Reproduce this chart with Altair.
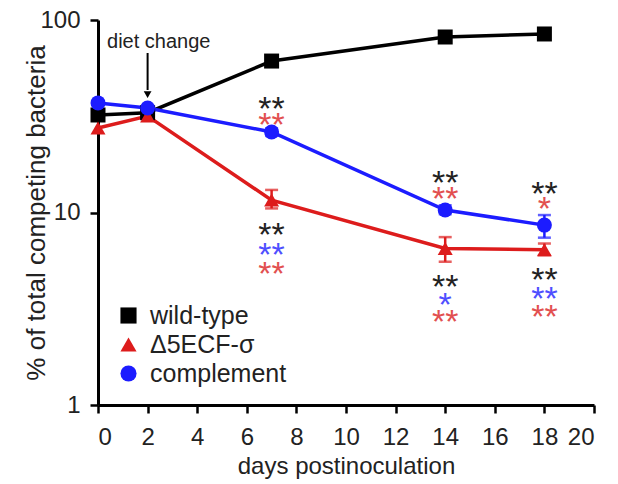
import altair as alt
import pandas as pd

FONT = "Liberation Sans"

series_names = ["wild-type", "Δ5ECF-σ", "complement"]
series_colors = ["#000000", "#dd1c1c", "#1c1cff"]
series_shapes = ["square", "triangle-up", "circle"]

days = [0, 2, 7, 14, 18]
wild_type = [32.1, 33.0, 61.2, 81.6, 84.6]
mutant = [27.5, 31.7, 11.6, 6.5, 6.4]
complement = [37.1, 34.9, 26.2, 10.3, 8.6]

# error bars (series, day, low, high)
err_series = ["Δ5ECF-σ", "Δ5ECF-σ", "Δ5ECF-σ", "complement", "complement", "complement"]
err_day = [7, 14, 18, 7, 14, 18]
err_lo = [10.5, 5.55, 6.0, 25.0, 9.8, 7.4]
err_hi = [13.1, 7.45, 6.9, 27.4, 10.9, 9.7]

# significance asterisks (day, y-value, text, comparison group)
ast_day = [7, 7, 7, 7, 7, 14, 14, 14, 14, 14, 18, 18, 18, 18, 18]
ast_val = [37.5, 31.0, 8.30, 6.54, 5.21, 15.5, 12.8, 4.46, 3.60, 2.94, 13.6, 11.3, 4.85, 3.86, 3.12]
ast_txt = ["**", "**", "**", "**", "**", "**", "**", "**", "*", "**", "**", "*", "**", "**", "**"]
ast_grp = ["k", "r", "k", "b", "r",
           "k", "r", "k", "b", "r",
           "k", "r", "k", "b", "r"]
ast_group_names = ["k", "r", "b"]
ast_group_colors = ["#222222", "#e25050", "#4f4fff"]

# "diet change" annotation
note_text = ["diet change"]
note_day = [2.45]
note_val = [76.9]
arrow_day = [2]
arrow_top = [67.4]
arrow_bottom = [43.3]
arrow_head = [41.0]

rows = []
for name, vals in zip(series_names, [wild_type, mutant, complement]):
    for d, v in zip(days, vals):
        rows.append({"series": name, "day": d, "value": v})
df = pd.DataFrame(rows)
err_df = pd.DataFrame({"series": err_series, "day": err_day, "lo": err_lo, "hi": err_hi})
ast_df = pd.DataFrame({"day": ast_day, "value": ast_val, "txt": ast_txt, "grp": ast_grp})
note_df = pd.DataFrame({"day": note_day, "value": note_val, "txt": note_text})
arrow_df = pd.DataFrame({"day": arrow_day, "top": arrow_top, "bottom": arrow_bottom, "head": arrow_head})

xscale = alt.Scale(domain=[0, 20], nice=False)
yscale = alt.Scale(type="log", domain=[1, 100], nice=False)
color_scale = alt.Scale(domain=series_names, range=series_colors)
shape_scale = alt.Scale(domain=series_names, range=series_shapes)

x_enc = alt.X("day:Q", scale=xscale,
              axis=alt.Axis(values=list(range(0, 21, 2)), title="days postinoculation",
                            labelPadding=12, titlePadding=5))
y_enc = alt.Y("value:Q", scale=yscale,
              axis=alt.Axis(values=[1, 10, 100], format="d", title="% of total competing bacteria",
                            labelPadding=10, titlePadding=-10, titleFontSize=26))

lines = alt.Chart(df).mark_line(strokeWidth=3.5).encode(
    x=x_enc, y=y_enc,
    color=alt.Color("series:N", scale=color_scale),
    order=alt.Order("day:Q"),
)

err_rules = alt.Chart(err_df).mark_rule(strokeWidth=2.5).encode(
    x=alt.X("day:Q", scale=xscale),
    y=alt.Y("lo:Q", scale=yscale),
    y2="hi:Q",
    color=alt.Color("series:N", scale=color_scale),
)
cap_lo = alt.Chart(err_df).mark_tick(orient="horizontal", size=13, thickness=2.5).encode(
    x=alt.X("day:Q", scale=xscale),
    y=alt.Y("lo:Q", scale=yscale),
    color=alt.Color("series:N", scale=color_scale),
)
cap_hi = alt.Chart(err_df).mark_tick(orient="horizontal", size=13, thickness=2.5).encode(
    x=alt.X("day:Q", scale=xscale),
    y=alt.Y("hi:Q", scale=yscale),
    color=alt.Color("series:N", scale=color_scale),
)

points = alt.Chart(df).mark_point(filled=True, opacity=1, size=225).encode(
    x=alt.X("day:Q", scale=xscale),
    y=alt.Y("value:Q", scale=yscale),
    color=alt.Color("series:N", scale=color_scale),
    shape=alt.Shape("series:N", scale=shape_scale),
)

star_layers = []
for g, c in zip(ast_group_names, ast_group_colors):
    star_layers.append(
        alt.Chart(ast_df).transform_filter(alt.datum.grp == g)
        .mark_text(font=FONT, fontSize=34, baseline="middle", dy=8, color=c)
        .encode(
            x=alt.X("day:Q", scale=xscale),
            y=alt.Y("value:Q", scale=yscale),
            text="txt:N",
        )
    )

note = alt.Chart(note_df).mark_text(font=FONT, fontSize=20, color="#222222", baseline="middle").encode(
    x=alt.X("day:Q", scale=xscale),
    y=alt.Y("value:Q", scale=yscale),
    text="txt:N",
)
arrow_line = alt.Chart(arrow_df).mark_rule(strokeWidth=2, color="#000000").encode(
    x=alt.X("day:Q", scale=xscale),
    y=alt.Y("top:Q", scale=yscale),
    y2="bottom:Q",
)
arrow_tip = alt.Chart(arrow_df).mark_point(shape="triangle-down", filled=True, opacity=1,
                                           size=60, color="#000000").encode(
    x=alt.X("day:Q", scale=xscale),
    y=alt.Y("head:Q", scale=yscale),
)

chart = alt.layer(
    lines, err_rules, cap_lo, cap_hi, points, *star_layers, note, arrow_line, arrow_tip
).properties(
    width=496, height=385,
    autosize=alt.AutoSizeParams(type="none"),
    padding={"left": 90, "top": 12, "right": 16, "bottom": 78},
).configure_view(stroke=None).configure_axis(
    domainColor="#000000", domainWidth=3, tickColor="#000000", tickWidth=2.5, tickSize=8,
    grid=False, labelFont=FONT, labelFontSize=24, labelColor="#222222",
    titleFont=FONT, titleFontSize=24, titleFontWeight="normal", titleColor="#222222",
).configure_legend(
    orient="bottom-left", offset=18, title=None, labelFont=FONT, labelFontSize=25,
    labelColor="#222222", symbolSize=260, rowPadding=3, labelOffset=9,
    symbolStrokeWidth=0, symbolType="circle", symbolOpacity=1,
)

chart.save("out.html", embed_options={"renderer": "svg", "actions": False})
